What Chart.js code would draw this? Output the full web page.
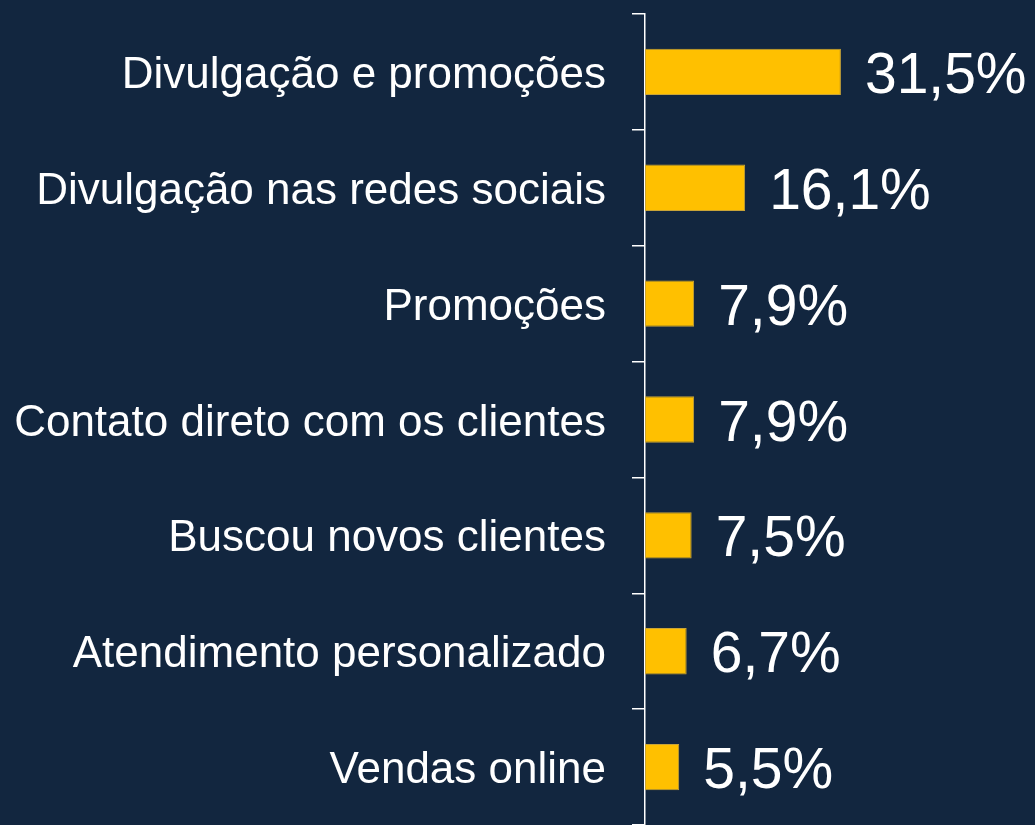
<!DOCTYPE html>
<html>
<head>
<meta charset="utf-8">
<script src="https://cdn.jsdelivr.net/npm/chart.js@4"></script>
<style>
  html, body { margin: 0; padding: 0; background: #12263f; }
  #wrap { width: 1035px; height: 825px; }
</style>
</head>
<body>
<div id="wrap"><canvas id="c" width="1035" height="825"></canvas></div>
<script>
const categories = [
  "Divulgação e promoções",
  "Divulgação nas redes sociais",
  "Promoções",
  "Contato direto com os clientes",
  "Buscou novos clientes",
  "Atendimento personalizado",
  "Vendas online"
];
const values = [31.5, 16.1, 7.9, 7.9, 7.5, 6.7, 5.5];
const valueLabels = ["31,5%", "16,1%", "7,9%", "7,9%", "7,5%", "6,7%", "5,5%"];

const valueLabelPlugin = {
  id: 'valueLabels',
  afterDatasetsDraw(chart) {
    const ctx = chart.ctx;
    const meta = chart.getDatasetMeta(0);
    ctx.save();
    ctx.fillStyle = '#ffffff';
    ctx.font = '57px "Liberation Sans", Arial, sans-serif';
    ctx.textAlign = 'left';
    ctx.textBaseline = 'alphabetic';
    meta.data.forEach((bar, i) => {
      ctx.fillText(valueLabels[i], bar.x + 24, bar.y + 21);
    });
    ctx.restore();
  }
};

new Chart(document.getElementById('c'), {
  type: 'bar',
  data: {
    labels: categories,
    datasets: [{
      data: values,
      backgroundColor: '#ffc000',
      borderColor: '#c9a437',
      borderWidth: 1,
      borderSkipped: false,
      categoryPercentage: 1,
      barPercentage: 0.4
    }]
  },
  options: {
    indexAxis: 'y',
    responsive: false,
    animation: false,
    layout: { padding: { top: 14, right: 0, bottom: -1, left: 0 } },
    plugins: {
      legend: { display: false },
      tooltip: { enabled: false }
    },
    scales: {
      x: {
        display: false,
        min: 0,
        max: 62.7
      },
      y: {
        afterFit(scale) {
          scale.width = 645;
          scale.paddingTop = 0;
          scale.paddingBottom = 0;
        },
        border: { display: true, color: '#ffffff', width: 1.5 },
        grid: {
          display: true,
          offset: true,
          drawOnChartArea: false,
          drawTicks: true,
          tickLength: 13,
          color: '#ffffff',
          lineWidth: 1.5
        },
        ticks: {
          color: '#ffffff',
          padding: 26,
          labelOffset: 4,
          font: { family: '"Liberation Sans", Arial, sans-serif', size: 44 }
        }
      }
    }
  },
  plugins: [valueLabelPlugin]
});
</script>
</body>
</html>
